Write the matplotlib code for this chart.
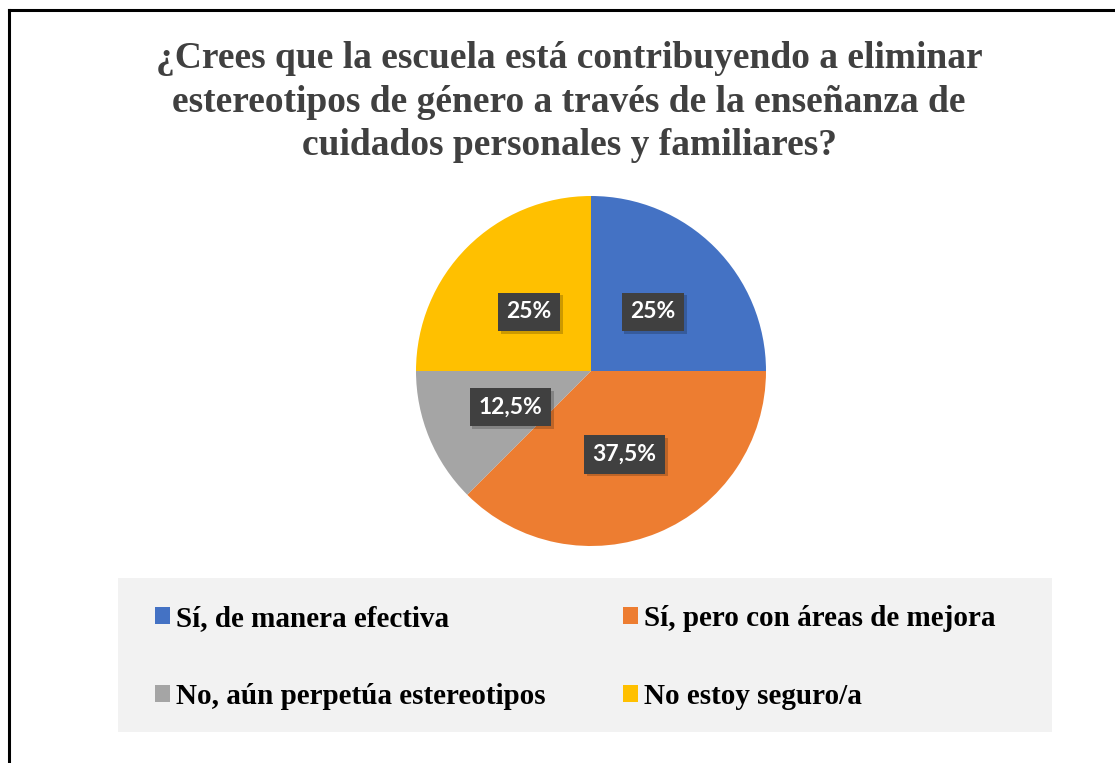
import matplotlib.pyplot as plt
import matplotlib.patheffects as pe
import numpy as np
from matplotlib.patches import Rectangle
from matplotlib.lines import Line2D

title = ('¿Crees que la escuela está contribuyendo a eliminar\n'
         'estereotipos de género a través de la enseñanza de\n'
         'cuidados personales y familiares?')
categories = ['Sí, de manera efectiva', 'Sí, pero con áreas de mejora',
              'No, aún perpetúa estereotipos', 'No estoy seguro/a']
values = [25, 37.5, 12.5, 25]
pct_labels = ['25%', '37,5%', '12,5%', '25%']
colors = ['#4472C4', '#ED7D31', '#A5A5A5', '#FFC000']

W, H = 1115, 763
fig = plt.figure(figsize=(W / 100, H / 100), dpi=100)

# marco negro (solo lados superior e izquierdo visibles)
fig.add_artist(Line2D([9 / W, 9 / W], [0, 1 - 10 / H], color='black', lw=2.2,
                      transform=fig.transFigure))
fig.add_artist(Line2D([9 / W, 1], [1 - 10 / H, 1 - 10 / H], color='black', lw=2.2,
                      transform=fig.transFigure))

fig.text(569 / W, 1 - 102 / H, title, ha='center', va='center',
         family='Liberation Serif', weight='bold', fontsize=27,
         color='#404040', linespacing=1.33)

cx, cy, r = 591, 371, 175
ax = fig.add_axes([(cx - r) / W, 1 - (cy + r) / H, 2 * r / W, 2 * r / H])
wedges, _ = ax.pie(values, colors=colors, startangle=90, counterclock=False,
                   radius=1)
ax.set_xlim(-1, 1)
ax.set_ylim(-1, 1)
ax.set_aspect('equal')
ax.axis('off')

for w, lab in zip(wedges, pct_labels):
    ang = np.deg2rad((w.theta1 + w.theta2) / 2)
    x, y = 0.5 * np.cos(ang), 0.5 * np.sin(ang) - 0.015
    t = ax.text(x, y, lab, ha='center', va='center',
                family='Lato', weight='bold', fontsize=16.5, color='white',
                bbox=dict(boxstyle='square,pad=0.38', fc='#404040', ec='none'))
    # sombra suave de la caja
    t.get_bbox_patch().set_path_effects(
        [pe.SimplePatchShadow(offset=(2, -2), shadow_rgbFace='black', alpha=0.2),
         pe.Normal()])

# leyenda
fig.add_artist(Rectangle((118 / W, 1 - 732 / H), (1052 - 118) / W, (732 - 578) / H,
                         transform=fig.transFigure, fc='#F2F2F2', ec='none',
                         zorder=0))
order = [0, 2, 1, 3]
leg = fig.legend([wedges[i] for i in order], [categories[i] for i in order],
                 ncol=2, loc='upper left', bbox_to_anchor=(155 / W, 1 - 605 / H),
                 frameon=False, borderpad=0, borderaxespad=0,
                 prop={'family': 'Liberation Serif', 'weight': 'bold', 'size': 21},
                 handlelength=0.52, handleheight=0.52, handletextpad=0.2,
                 columnspacing=2.65, labelspacing=1.75)

fig.savefig('out.png', dpi=100)
